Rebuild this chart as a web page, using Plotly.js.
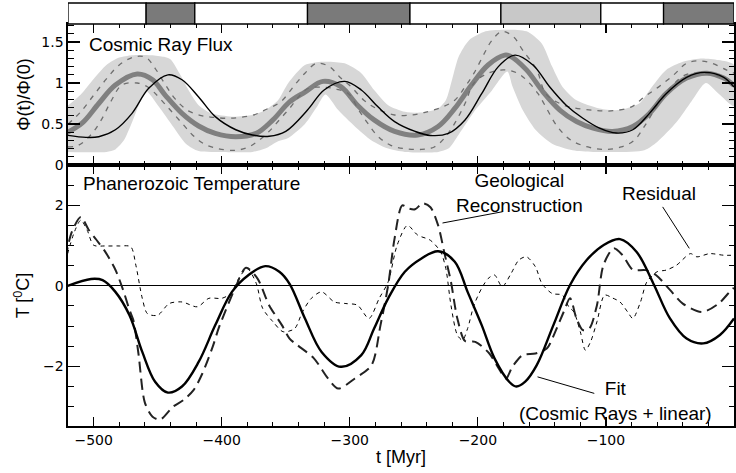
<!DOCTYPE html>
<html><head><meta charset="utf-8">
<script src="https://cdn.plot.ly/plotly-3.0.1.min.js"></script>
<style>html,body{margin:0;padding:0;background:#fff}#chart{width:736px;height:473px}</style>
</head><body><div id="chart"></div><script>
// ---------- Top panel: cosmic ray flux Phi(t)/Phi(0) ----------
const tMean = [-522,-509,-496,-483,-466,-454,-444,-431,-418,-405,-389,-373,-360,-347,-335,-321,-307,-294,-281,-265,-247,-231,-218,-205,-192,-179,-175,-162,-149,-136,-123,-110,-95,-79,-66,-53,-37,-21,-8,0];
const fluxMean = [0.386,0.51,0.75,0.975,1.11,1.04,0.85,0.63,0.476,0.386,0.345,0.386,0.55,0.77,0.89,1.02,0.955,0.73,0.55,0.41,0.366,0.47,0.69,0.975,1.22,1.34,1.33,1.16,0.89,0.67,0.53,0.45,0.41,0.47,0.63,0.87,1.06,1.12,1.06,0.97];

const tFit = [-522,-506,-496,-483,-470,-457,-442,-431,-418,-405,-389,-376,-363,-350,-333,-320,-304,-291,-278,-265,-249,-237,-223,-210,-197,-184,-171,-157,-144,-131,-118,-105,-92,-79,-66,-53,-37,-23,-8,0];
const fluxFit = [0.366,0.337,0.345,0.43,0.63,0.935,1.10,1.04,0.83,0.59,0.43,0.366,0.35,0.41,0.67,0.915,1.02,0.915,0.71,0.53,0.41,0.36,0.386,0.55,0.87,1.2,1.34,1.22,0.955,0.73,0.57,0.45,0.39,0.43,0.63,0.87,1.07,1.13,1.07,0.95];

const tBandHi = [-522,-510,-500,-490,-480,-470,-455,-445,-440,-433,-425,-418,-408,-392,-376,-366,-356,-348,-335,-321,-304,-291,-281,-270,-257,-244,-231,-225,-220,-215,-207,-194,-177,-162,-150,-142,-134,-123,-105,-90,-74,-64,-53,-40,-26,-12,0];
const bandHi = [0.70,0.86,1.05,1.22,1.31,1.34,1.34,1.32,1.29,1.12,0.89,0.73,0.63,0.59,0.61,0.67,0.79,1.0,1.22,1.26,1.24,1.12,0.915,0.73,0.65,0.64,0.69,0.79,1.05,1.32,1.52,1.63,1.65,1.63,1.48,1.2,0.955,0.79,0.69,0.67,0.75,0.955,1.16,1.26,1.30,1.28,1.22];

const tBandLo = [-522,-490,-483,-476,-470,-465,-459,-449,-438,-428,-418,-400,-376,-366,-356,-348,-335,-326,-319,-309,-296,-283,-270,-257,-231,-223,-215,-202,-189,-177,-173,-165,-155,-142,-126,-110,-70,-60,-45,-33,-22,-12,0];
const bandLo = [0.16,0.16,0.19,0.31,0.52,0.72,0.9,0.71,0.47,0.26,0.17,0.16,0.16,0.2,0.29,0.33,0.5,0.7,0.86,0.67,0.47,0.30,0.2,0.16,0.16,0.2,0.37,0.67,0.91,1.14,0.96,0.67,0.43,0.26,0.18,0.16,0.18,0.28,0.52,0.78,1.0,0.87,0.72];

const tDashHi = [-520,-510,-500,-490,-480,-468,-459,-452,-444,-436,-426,-415,-406,-396,-386,-375,-365,-354,-343,-335,-326,-316,-307,-299,-289,-278,-265,-252,-242,-229,-218,-210,-203,-195,-189,-181,-172,-165,-154,-147,-136,-126,-111,-96,-80,-70,-59,-47,-37,-27,-17,-6,0];
const dashHi = [0.50,0.65,0.85,1.05,1.22,1.32,1.31,1.18,0.98,0.80,0.66,0.60,0.58,0.57,0.58,0.61,0.68,0.77,0.975,1.12,1.24,1.2,1.06,0.955,0.79,0.68,0.61,0.61,0.64,0.70,0.79,0.955,1.12,1.36,1.52,1.63,1.56,1.40,1.16,0.87,0.75,0.70,0.67,0.66,0.71,0.83,0.95,1.10,1.24,1.27,1.24,1.16,1.12];

const tDashLo = [-520,-512,-502,-494,-486,-478,-466,-458,-453,-443,-431,-423,-414,-403,-389,-379,-371,-363,-355,-347,-340,-333,-322,-312,-301,-293,-286,-278,-268,-257,-244,-234,-226,-218,-210,-203,-192,-180,-169,-161,-153,-147,-138,-127,-114,-101,-88,-78,-70,-59,-49,-38,-26,-15,0];
const dashLo = [0.22,0.24,0.37,0.55,0.79,0.975,1.0,0.955,0.89,0.72,0.51,0.37,0.26,0.2,0.18,0.22,0.30,0.41,0.55,0.69,0.83,0.93,0.95,0.93,0.87,0.67,0.51,0.35,0.24,0.2,0.19,0.22,0.33,0.51,0.75,1.0,1.12,1.16,1.12,1.02,0.87,0.71,0.47,0.30,0.22,0.19,0.22,0.30,0.47,0.75,0.955,1.10,1.12,1.10,0.98];

// ---------- Bottom panel: Phanerozoic temperature [deg C] ----------
const tT = [-522,-502,-493,-483,-472,-462,-452,-442,-431,-418,-405,-392,-379,-366,-355,-347,-335,-322,-307,-291,-281,-270,-257,-244,-231,-218,-208,-197,-187,-175,-170,-163,-154,-141,-128,-115,-102,-89,-76,-63,-50,-37,-24,-11,0];
const tempFit = [-0.02,0.17,0.14,-0.15,-0.73,-1.64,-2.38,-2.65,-2.5,-1.89,-0.975,-0.15,0.27,0.49,0.35,0.05,-0.81,-1.64,-2.01,-1.72,-1.06,-0.31,0.35,0.68,0.86,0.6,-0.15,-0.975,-1.80,-2.4,-2.5,-2.38,-1.97,-0.975,0.02,0.64,1.01,1.16,0.84,0.06,-0.81,-1.31,-1.43,-1.22,-0.81];

const tGeo = [-522,-517,-510,-504,-498,-491,-483,-477,-472,-469,-465,-460,-454,-448,-438,-430,-422,-415,-407,-402,-389,-381,-372,-363,-353,-347,-341,-328,-317,-309,-296,-283,-276,-270,-265,-259,-254,-249,-243,-237,-231,-226,-221,-216,-210,-202,-191,-183,-178,-173,-165,-155,-146,-139,-133,-128,-123,-118,-113,-107,-102,-94,-87,-79,-69,-61,-50,-40,-25,-12,-1,0];
const tempGeo = [0.68,1.34,1.71,1.4,1.15,0.85,0.4,-0.1,-0.6,-0.85,-1.68,-2.9,-3.25,-3.32,-3.0,-2.84,-2.59,-2.17,-1.51,-1.02,-0.02,0.45,0.18,-0.48,-0.975,-1.31,-1.47,-1.80,-2.30,-2.55,-2.3,-1.97,-0.975,0.02,1.18,2.0,1.92,1.9,2.05,1.95,1.5,0.8,0.1,-0.81,-1.37,-1.39,-1.68,-2.09,-2.30,-2.01,-1.72,-1.68,-1.55,-1.1,-0.65,-0.31,-0.81,-1.1,-1.06,-0.48,0.51,0.93,0.76,0.4,0.39,0.27,-0.1,-0.44,-0.65,-0.44,-0.07,-0.06];

const tRes = [-522,-515,-510,-505,-500,-491,-480,-471,-467,-462,-458,-450,-441,-431,-419,-410,-400,-393,-386,-380,-373,-368,-360,-352,-343,-337,-330,-322,-312,-303,-294,-285,-277,-270,-263,-255,-247,-237,-229,-225,-221,-216,-212,-208,-203,-197,-192,-187,-181,-174,-168,-162,-155,-150,-142,-134,-129,-125,-120,-116,-112,-107,-101,-95,-89,-83,-79,-73,-68,-60,-53,-45,-34,-29,-19,-8,0];
const tempRes = [0.6,1.34,1.63,1.38,1.01,0.99,0.99,0.97,0.51,-0.31,-0.69,-0.73,-0.44,-0.40,-0.52,-0.31,-0.31,-0.19,0.22,0.43,0.06,-0.56,-0.89,-1.14,-1.06,-0.65,-0.31,-0.15,-0.4,-0.44,-0.48,-0.81,-0.31,0.1,1.01,1.5,1.26,1.13,0.84,0.43,-0.48,-1.22,-1.35,-1.06,-0.48,-0.06,0.18,0.27,-0.02,0.31,0.64,0.72,0.47,0.06,-0.19,-0.23,-0.52,-0.65,-1.14,-1.6,-1.39,-0.89,-0.23,-0.3,-0.40,-0.65,-0.81,-0.40,0.1,0.35,0.39,0.51,0.8,0.72,0.8,0.76,0.76];

// ---------- Strip above: spiral-arm crossings ----------
const stripStart = [-520,-459,-421,-333,-253,-182,-104,-55];
const stripEnd   = [-459,-421,-333,-253,-182,-104,-55,0];
const stripKind  = ['inter','arm','inter','arm','inter','armLight','inter','arm'];

// ---------- build ----------
const kindColor = {inter:'#ffffff', arm:'#7a7a7a', armLight:'#c8c8c8'};
const bandX = tBandHi.concat(tBandLo.slice().reverse());
const bandY = bandHi.concat(bandLo.slice().reverse());

const traces = [
  {x:bandX, y:bandY, xaxis:'x2', yaxis:'y2', mode:'lines', fill:'toself', fillcolor:'#d7d7d7',
   line:{width:0, color:'#d7d7d7', shape:'spline', smoothing:0.7}, hoverinfo:'skip', showlegend:false},
  {x:tMean, y:fluxMean, xaxis:'x2', yaxis:'y2', mode:'lines', line:{color:'#808080', width:5, shape:'spline'}, showlegend:false},
  {x:tDashHi, y:dashHi, xaxis:'x2', yaxis:'y2', mode:'lines', line:{color:'#6e6e6e', width:1.3, dash:'5px,6px', shape:'spline'}, showlegend:false},
  {x:tDashLo, y:dashLo, xaxis:'x2', yaxis:'y2', mode:'lines', line:{color:'#6e6e6e', width:1.3, dash:'5px,6px', shape:'spline'}, showlegend:false},
  {x:tFit, y:fluxFit, xaxis:'x2', yaxis:'y2', mode:'lines', line:{color:'#000', width:1.4, shape:'spline'}, showlegend:false},
  {x:tRes, y:tempRes, xaxis:'x', yaxis:'y', mode:'lines', line:{color:'#000', width:1, dash:'4px,4px', shape:'spline', smoothing:0.8}, showlegend:false},
  {x:tGeo, y:tempGeo, xaxis:'x', yaxis:'y', mode:'lines', line:{color:'#222', width:2, dash:'11px,6px', shape:'spline', smoothing:0.8}, showlegend:false},
  {x:tT, y:tempFit, xaxis:'x', yaxis:'y', mode:'lines', line:{color:'#000', width:2.4, shape:'spline'}, showlegend:false}
];

const shapes = stripStart.map((s,i)=>({type:'rect', xref:'x', yref:'paper', x0:s, x1:stripEnd[i], y0:0.9504, y1:1,
  fillcolor:kindColor[stripKind[i]], line:{color:'#000', width:1.3}, layer:'above'}));
// leader lines for labels
shapes.push({type:'line', xref:'x', yref:'y', x0:-180.7, y0:1.84, x1:-227.6, y1:1.56, line:{color:'#000', width:1}});
shapes.push({type:'line', xref:'x', yref:'y', x0:-55.7, y0:1.96, x1:-34.9, y1:0.93, line:{color:'#000', width:1}});
shapes.push({type:'line', xref:'x', yref:'y', x0:-109.1, y0:-2.67, x1:-153.4, y1:-2.26, line:{color:'#000', width:1}});

const tf = {family:'DejaVu Sans, sans-serif', size:14, color:'#000'};
const lf = {family:'Liberation Sans, Arial, sans-serif', size:19, color:'#000'};
const xBase = {range:[-520,0], showline:true, linecolor:'#000', linewidth:1.8, mirror:'allticks',
  ticks:'inside', ticklen:9, tickwidth:1.2, tickcolor:'#000', dtick:100, tick0:0,
  minor:{dtick:20, ticklen:4.5, tickwidth:1, tickcolor:'#000', ticks:'inside'},
  showgrid:false, zeroline:false, tickfont:tf, fixedrange:true};

const layout = {
  width:736, height:473, margin:{l:68, r:2, t:3, b:47},
  paper_bgcolor:'#fff', plot_bgcolor:'rgba(0,0,0,0)',
  font:{family:'Liberation Sans, Arial, sans-serif', color:'#000'},
  xaxis: Object.assign({}, xBase, {anchor:'y', domain:[0,1],
    title:{text:'t [Myr]', font:{family:'Liberation Sans, Arial, sans-serif', size:18}, standoff:4}}),
  xaxis2: Object.assign({}, xBase, {anchor:'y2', domain:[0,1], matches:'x', showticklabels:false}),
  yaxis: {domain:[0,0.617], range:[-3.48,3.0], anchor:'x', showline:true, linecolor:'#000', linewidth:1.6, mirror:'allticks',
    ticks:'inside', ticklen:12, tickwidth:1.2, tickcolor:'#000', dtick:2, tick0:0,
    minor:{dtick:0.5, ticklen:5.5, tickwidth:1, tickcolor:'#000', ticks:'inside'},
    showgrid:false, zeroline:true, zerolinecolor:'#000', zerolinewidth:1, tickfont:tf, fixedrange:true,
    title:{text:'T [<sup>0</sup>C]', font:{family:'Liberation Sans, Arial, sans-serif', size:18}, standoff:8}},
  yaxis2: {domain:[0.617,0.9504], range:[0,1.72], anchor:'x2', showline:true, linecolor:'#000', linewidth:1.6, mirror:'allticks',
    ticks:'inside', ticklen:12, tickwidth:1.2, tickcolor:'#000', dtick:0.5, tick0:0,
    minor:{dtick:0.1, ticklen:5.5, tickwidth:1, tickcolor:'#000', ticks:'inside'},
    showgrid:false, zeroline:false, tickfont:tf, fixedrange:true,
    title:{text:'Φ(t)/Φ(0)', font:{family:'Liberation Sans, Arial, sans-serif', size:18}, standoff:6}},
  shapes: shapes,
  annotations: [
    {text:'Cosmic Ray Flux', xref:'x2', yref:'y2', x:-505.5, y:1.47, xanchor:'left', yanchor:'middle', showarrow:false, font:lf},
    {text:'Phanerozoic Temperature', xref:'x', yref:'y', x:-509.6, y:2.55, xanchor:'left', yanchor:'middle', showarrow:false, font:lf},
    {text:'Geological<br>Reconstruction', xref:'x', yref:'y', x:-167.5, y:2.31, xanchor:'center', yanchor:'middle', align:'center', showarrow:false, font:lf},
    {text:'Residual', xref:'x', yref:'y', x:-58.4, y:2.29, xanchor:'center', yanchor:'middle', showarrow:false, font:lf},
    {text:'Fit<br>(Cosmic Rays + linear)', xref:'x', yref:'y', x:-92.3, y:-2.86, xanchor:'center', yanchor:'middle', align:'center', showarrow:false, font:lf}
  ]
};
Plotly.newPlot('chart', traces, layout, {staticPlot:true, displayModeBar:false});
</script></body></html>
